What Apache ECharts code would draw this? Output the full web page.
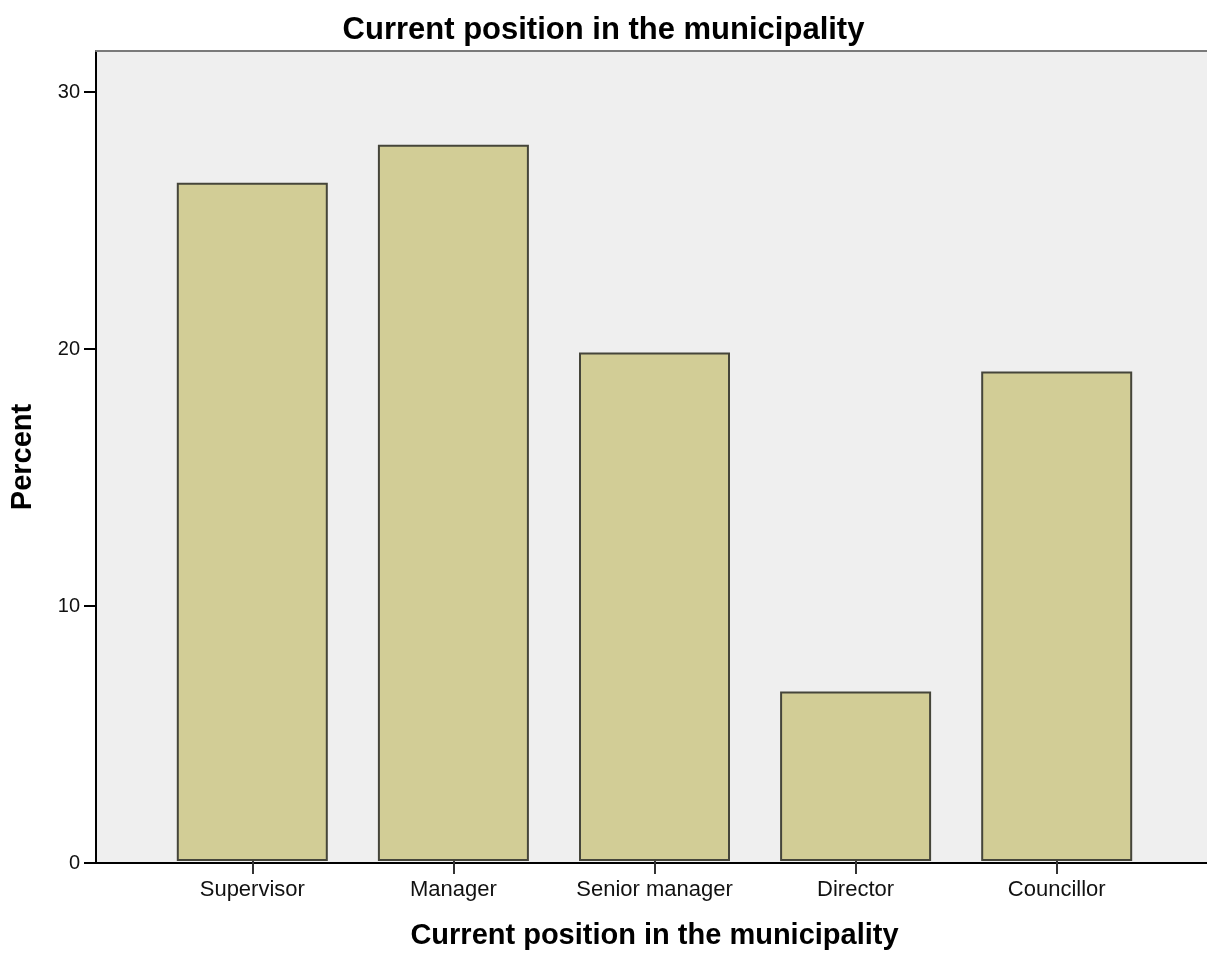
<!DOCTYPE html>
<html>
<head>
<meta charset="utf-8">
<script src="https://cdn.jsdelivr.net/npm/echarts@6/dist/echarts.min.js"></script>
<style>
html,body{margin:0;padding:0;background:#fff;}
#chart{width:1207px;height:955px;}
</style>
</head>
<body>
<div id="chart"></div>
<script>
var categories = ["Supervisor", "Manager", "Senior manager", "Director", "Councillor"];
var percentValues = [26.46, 27.94, 19.84, 6.61, 19.1];
var yTicks = [0, 10, 20, 30];
var titleText = "Current position in the municipality";
var xAxisTitle = "Current position in the municipality";
var yAxisTitle = "Percent";

var FONT = "'Liberation Sans', Arial, sans-serif";
var yMax = 31.6;
var chart = echarts.init(document.getElementById('chart'), null, {renderer: 'canvas'});
chart.setOption({
  backgroundColor: '#ffffff',
  animation: false,
  title: {
    text: titleText,
    left: 'center',
    top: 10,
    textStyle: {fontFamily: FONT, fontSize: 31, fontWeight: 'bold', color: '#000'}
  },
  grid: [
    {left: 96, right: 0, top: 51, bottom: 92, show: true, backgroundColor: '#efefef', borderWidth: 0, containLabel: false},
    {left: 151.75, width: 1005.5, top: 51, bottom: 92, containLabel: false}
  ],
  xAxis: [
    {gridIndex: 0, type: 'value', min: 0, max: 1, position: 'bottom',
     axisLine: {show: true, onZero: false, lineStyle: {color: '#000', width: 2}},
     axisTick: {show: false}, axisLabel: {show: false}, splitLine: {show: false}},
    {gridIndex: 0, type: 'value', min: 0, max: 1, position: 'top',
     axisLine: {show: true, onZero: false, lineStyle: {color: '#7a7a7a', width: 2}},
     axisTick: {show: false}, axisLabel: {show: false}, splitLine: {show: false}},
    {gridIndex: 1, type: 'category', data: categories, position: 'bottom',
     boundaryGap: true,
     axisLine: {show: false},
     axisTick: {show: true, interval: 0, alignWithLabel: true, length: 13, lineStyle: {color: '#333', width: 2}},
     axisLabel: {show: true, interval: 0, hideOverlap: false, margin: 18, fontFamily: FONT, fontSize: 22, color: '#111'},
     name: xAxisTitle, nameLocation: 'middle', nameGap: 60,
     nameTextStyle: {fontFamily: FONT, fontSize: 29, fontWeight: 'bold', color: '#000'}}
  ],
  yAxis: [
    {gridIndex: 0, type: 'value', min: 0, max: yMax, interval: 10,
     axisLine: {show: true, onZero: false, lineStyle: {color: '#000', width: 2}},
     axisTick: {show: true, length: 12, customValues: yTicks, lineStyle: {color: '#000', width: 2}},
     axisLabel: {show: true, margin: 16, customValues: yTicks, fontFamily: FONT, fontSize: 20, color: '#111'},
     splitLine: {show: false},
     name: yAxisTitle, nameLocation: 'middle', nameGap: 59, nameRotate: 90,
     nameTextStyle: {fontFamily: FONT, fontSize: 29, fontWeight: 'bold', color: '#000'}},
    {gridIndex: 1, type: 'value', min: 0, max: yMax, show: false, splitLine: {show: false}}
  ],
  series: [{
    type: 'bar',
    xAxisIndex: 2,
    yAxisIndex: 1,
    data: percentValues,
    barWidth: 151,
    itemStyle: {color: '#d2cd96', borderColor: '#45453a', borderWidth: 2}
  }]
});
</script>
</body>
</html>
